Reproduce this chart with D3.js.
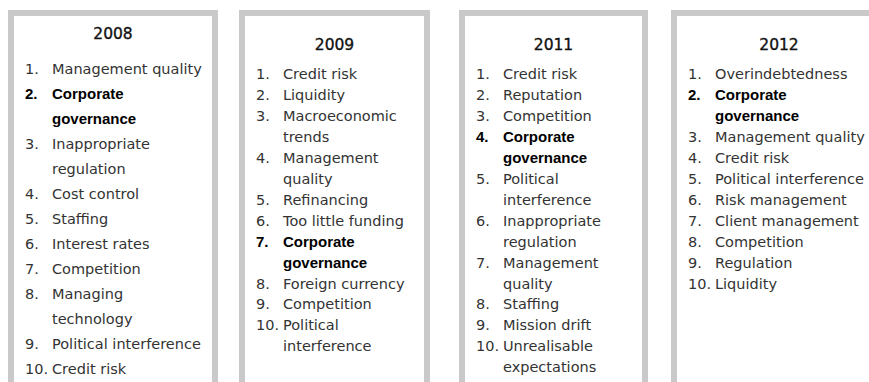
<!DOCTYPE html>
<html>
<head>
<meta charset="utf-8">
<script src="https://cdn.jsdelivr.net/npm/d3@7"></script>
<style>
  html, body { margin: 0; padding: 0; background: #fff; }
  svg { display: block; }
</style>
</head>
<body>
<svg id="chart" width="869" height="382"></svg>
<script>
// ---- data ----
const years = ["2008", "2009", "2011", "2012"];
const risks2008 = ["Management quality", "Corporate\ngovernance", "Inappropriate\nregulation", "Cost control", "Staffing", "Interest rates", "Competition", "Managing\ntechnology", "Political interference", "Credit risk"];
const risks2009 = ["Credit risk", "Liquidity", "Macroeconomic\ntrends", "Management\nquality", "Refinancing", "Too little funding", "Corporate\ngovernance", "Foreign currency", "Competition", "Political\ninterference"];
const risks2011 = ["Credit risk", "Reputation", "Competition", "Corporate\ngovernance", "Political\ninterference", "Inappropriate\nregulation", "Management\nquality", "Staffing", "Mission drift", "Unrealisable\nexpectations"];
const risks2012 = ["Overindebtedness", "Corporate\ngovernance", "Management quality", "Credit risk", "Political interference", "Risk management", "Client management", "Competition", "Regulation", "Liquidity"];
const highlighted = "Corporate governance";

const lists = [risks2008, risks2009, risks2011, risks2012];

// ---- layout ----
const boxes = [
  { x0: 8,   x1: 218, titleY: 39, firstY: 74, step: 25 },
  { x0: 239, x1: 430, titleY: 50, firstY: 79, step: 20.95 },
  { x0: 459, x1: 648, titleY: 50, firstY: 79, step: 20.95 },
  { x0: 671, x1: 887, titleY: 50, firstY: 79, step: 20.95 }
];
const borderW = 6, boxTop = 10;
const regularFont = "'DejaVu Sans', sans-serif";
const boldFont = "'Liberation Sans', Arial, sans-serif";

const svg = d3.select("#chart");

const g = svg.selectAll("g.box")
  .data(years.map((y, i) => ({ year: y, items: lists[i], L: boxes[i] })))
  .join("g").attr("class", "box");

g.append("rect")
  .attr("x", d => d.L.x0).attr("y", boxTop)
  .attr("width", d => d.L.x1 - d.L.x0).attr("height", 420)
  .attr("fill", "#c9c9c9");
g.append("rect")
  .attr("x", d => d.L.x0 + borderW).attr("y", boxTop + borderW)
  .attr("width", d => d.L.x1 - d.L.x0 - 2 * borderW).attr("height", 420)
  .attr("fill", "#ffffff");

g.append("text")
  .attr("x", d => (d.L.x0 + d.L.x1) / 2)
  .attr("y", d => d.L.titleY)
  .attr("text-anchor", "middle")
  .attr("font-family", regularFont)
  .attr("font-size", 15.5)
  .attr("fill", "#111")
  .attr("stroke", "#111").attr("stroke-width", 0.35)
  .text(d => d.year);

g.each(function(d) {
  const sel = d3.select(this);
  const innerLeft = d.L.x0 + borderW;
  let line = 0;
  d.items.forEach((item, idx) => {
    const parts = item.split("\n");
    const bold = parts.join(" ") === highlighted;
    const font = bold ? boldFont : regularFont;
    const size = bold ? 15 : 14.5;
    const color = bold ? "#000" : "#333";
    sel.append("text")
      .attr("x", innerLeft + 11)
      .attr("y", d.L.firstY + line * d.L.step)
      .attr("font-family", font).attr("font-size", size)
      .attr("font-weight", bold ? "bold" : "normal")
      .attr("fill", color)
      .text((idx + 1) + ".");
    parts.forEach((p, j) => {
      sel.append("text")
        .attr("x", innerLeft + 38)
        .attr("y", d.L.firstY + (line + j) * d.L.step)
        .attr("font-family", font).attr("font-size", size)
        .attr("font-weight", bold ? "bold" : "normal")
        .attr("fill", color)
        .text(p);
    });
    line += parts.length;
  });
});
</script>
</body>
</html>
